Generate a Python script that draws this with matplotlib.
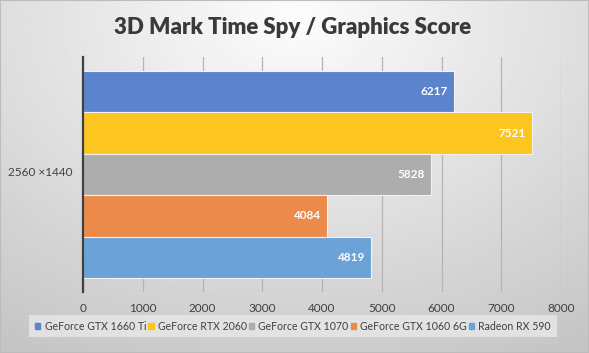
import numpy as np
import matplotlib
matplotlib.use("Agg")
import matplotlib.pyplot as plt
from matplotlib.patches import Rectangle

# --- data ---
title = "3D Mark Time Spy / Graphics Score"
category = "2560 ×1440"
gpus = ["GeForce GTX 1660 Ti", "GeForce RTX 2060", "GeForce GTX 1070",
        "GeForce GTX 1060 6G", "Radeon RX 590"]
scores = [6217, 7521, 5828, 4084, 4819]
colors = ["#5b84cc", "#fdc520", "#adadad", "#eb8a4a", "#6ba3d6"]
xticks = [0, 1000, 2000, 3000, 4000, 5000, 6000, 7000, 8000]

plt.rcParams['font.family'] = ['Lato', 'DejaVu Sans']

W, H = 589, 353
fig = plt.figure(figsize=(W / 100, H / 100), dpi=100)

# background gradient (light top-centre, darker edges)
bg = fig.add_axes([0, 0, 1, 1], zorder=-10)
yy, xx = np.mgrid[0:1:200j, 0:1:300j]
r = np.sqrt(((xx - 0.5) * 1.1) ** 2 + ((yy - 0.05) * 0.9) ** 2)
shade = 0.99 - 0.22 * np.clip(r, 0, 1)
bg.imshow(shade, cmap="gray", vmin=0, vmax=1, aspect="auto",
          extent=[0, 1, 1, 0])
bg.set_axis_off()
fig.patches.append(Rectangle((0, 0), 1, 1, transform=fig.transFigure,
                             fill=False, edgecolor="#bcbcbc", lw=1.5))

# plot area: x 83..561, y 57..292 (pixels from top)
left, right, top, bottom = 83, 561, 57, 292
ax = fig.add_axes([left / W, 1 - bottom / H, (right - left) / W, (bottom - top) / H])
ax.patch.set_alpha(0)

h = 1.0
n = len(scores)
pos = np.arange(n) * h
ax.barh(pos, scores, height=h, color=colors, edgecolor="#f2f2f2",
        linewidth=0.8, zorder=3)
for p, v in zip(pos, scores):
    ax.text(v - 110, p, str(v), color="white", fontweight="bold",
            fontsize=8.5, ha="right", va="center", zorder=4)

gap = (235 - 207) / 207 * n * h / 2
ax.set_ylim(n - 0.5 + gap, -0.5 - gap)
ax.set_xlim(0, 8000)
ax.set_xticks(xticks)
ax.set_xticklabels([str(t) for t in xticks], fontsize=8.5, color="#404040")
ax.set_yticks([])
ax.tick_params(axis="x", length=0, pad=8)
ax.grid(axis="x", color="#b4b4b4", lw=0.9, zorder=0)
for s in ["top", "right", "bottom"]:
    ax.spines[s].set_visible(False)
ax.spines["left"].set_color("#404040")
ax.spines["left"].set_linewidth(1.6)
ax.spines["left"].set_zorder(5)

fig.text(40 / W, 1 - 173 / H, category, fontsize=8.5, color="#404040",
         ha="center", va="center")
fig.text(293 / W, 1 - 28 / H, title, fontsize=16, fontweight="heavy",
         color="#3a3a3a", ha="center", va="center")

# legend
handles = [Rectangle((0, 0), 1, 1, color=c) for c in colors]
leg = fig.legend(handles, gpus, loc="center", bbox_to_anchor=(293 / W, 1 - 326 / H),
                 ncol=n, fontsize=7.6, frameon=True, handlelength=0.5,
                 handleheight=0.5, handletextpad=0.4, columnspacing=0.2,
                 borderpad=0.55, fancybox=False)
leg.get_frame().set_facecolor("#e8e8e8")
leg.get_frame().set_edgecolor("none")
for t in leg.get_texts():
    t.set_color("#404040")

fig.savefig("out.png", dpi=100)
